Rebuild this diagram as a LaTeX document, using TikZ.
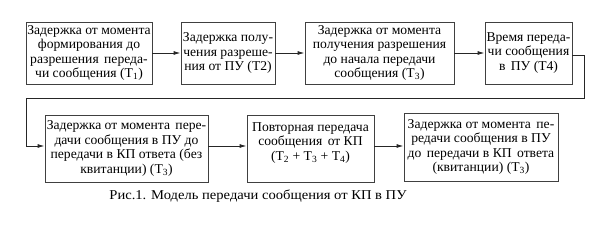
\documentclass[tikz,border=0pt]{standalone}
\usepackage{fontspec}
\setmainfont{Liberation Serif}[FakeStretch=1.01]
\newfontfamily\capfont{Liberation Serif}[FakeStretch=1.08]
\usetikzlibrary{arrows.meta}
\newcommand{\dsp}{\hspace{0.4em}}
\begin{document}
\begin{tikzpicture}[x=1pt,y=-1pt,
  box/.style={draw=black!75,line width=0.9pt,align=center,inner sep=0pt,font=\fontsize{13.5}{14.5}\selectfont},
  conn/.style={draw=black!85,line width=0.9pt,-{Latex[length=7pt,width=4pt]}}]
\useasboundingbox (0,0) rectangle (600,225);
\node[box,minimum width=126pt,minimum height=62pt] (b1) at (89,53) {Задержка от момента\\формирования до\\разрешения\dsp переда-\\чи сообщения (T\textsubscript{1})};
\node[box,minimum width=94pt,minimum height=62pt] (b2) at (228,53) {Задержка полу-\\чения разреше-\\ния от ПУ (T2)};
\node[box,minimum width=149pt,minimum height=62pt] (b3) at (379.5,53) {Задержка от момента\\получения разрешения\\до начала передачи\\сообщения (T\textsubscript{3})};
\node[box,minimum width=87pt,minimum height=62pt] (b4) at (528.5,53) {Время переда-\\чи сообщения\\в\dsp ПУ (T4)};
\node[box,minimum width=163pt,minimum height=67pt] (b5) at (126.5,148.5) {Задержка от момента\dsp пере-\\дачи сообщения в ПУ до\\передачи в КП ответа (без\\квитанции) (T\textsubscript{3})};
\node[box,minimum width=127pt,minimum height=67pt] (b6) at (310.5,148.5) {Повторная передача\\сообщения\dsp от КП\\(T\textsubscript{2} + T\textsubscript{3} + T\textsubscript{4})\\\vphantom{Й}};
\node[box,minimum width=154pt,minimum height=68pt] (b7) at (481,147) {Задержка от момента\dsp пе-\\редачи сообщения в ПУ\\до\dsp передачи в КП\dsp ответа\\(квитанции) (T\textsubscript{3})};
\node[font=\capfont\fontsize{13.5}{14.5}\selectfont] (cap) at (258,196) {Рис.1. Модель передачи сообщения от КП в ПУ};
\coordinate (c1) at (584,55);
\coordinate (c2) at (584,98);
\coordinate (c3) at (26,98);
\coordinate (c4) at (26,146);
\draw[conn] (b1.east) -- (b2.west);
\draw[conn] (b2.east) -- (b3.west);
\draw[conn] (b3.east) -- (b4.west);
\draw[conn] (b4.east |- c1) -- (c1) -- (c2) -- (c3) -- (c4) -- (b5.west |- c4);
\draw[conn] (b5.east |- c4) -- (b6.west |- c4);
\draw[conn] (b6.east |- c4) -- (b7.west |- c4);
\end{tikzpicture}
\end{document}
